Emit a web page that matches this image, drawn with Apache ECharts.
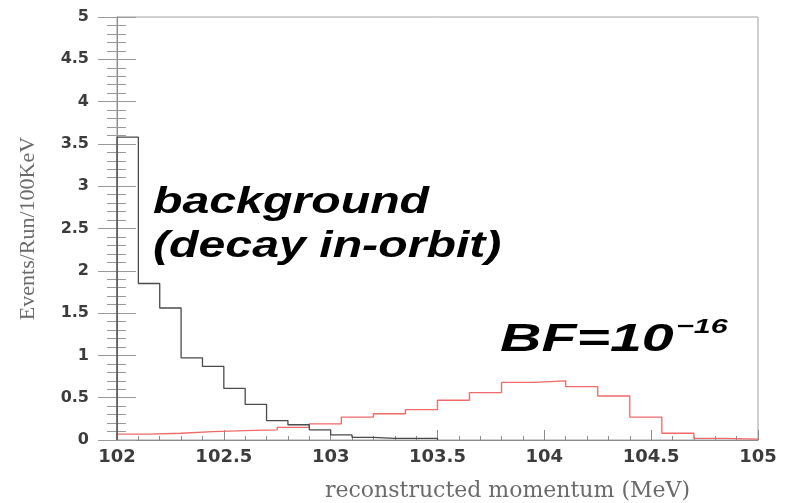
<!DOCTYPE html>
<html>
<head>
<meta charset="utf-8">
<script src="https://cdn.jsdelivr.net/npm/echarts@6/dist/echarts.min.js"></script>
<style>
  html, body { margin: 0; padding: 0; background: #fff; }
  #chart { width: 793px; height: 503px; }
</style>
</head>
<body>
<div id="chart"></div>
<script>
// background (decay in orbit), bins of 0.1 MeV starting at 102
const bgStart = 102.0;
const bgWidth = 0.1;
const bgCounts = [3.58, 1.85, 1.56, 0.97, 0.87, 0.61, 0.42, 0.23, 0.18, 0.12, 0.06, 0.03, 0.02, 0.02, 0.02];

// signal for BF=1e-16, bins of 0.15 MeV starting at 102
const sigStart = 102.0;
const sigWidth = 0.15;
const sigCounts = [0.07, 0.08, 0.10, 0.11, 0.12, 0.15, 0.19, 0.27, 0.31, 0.36, 0.47, 0.56, 0.68, 0.70, 0.63, 0.52, 0.27, 0.08, 0.02, 0.01];

// axis ticks
const xMin = 102, xMax = 105, xStep = 0.5;
const yMin = 0, yMax = 5, yStep = 0.5;

// turn bin contents into points for a step line (histogram outline)
function histPoints(start, width, counts) {
  let pts = [[start, 0]];
  counts.forEach((v, i) => {
    pts.push([+(start + i * width).toFixed(3), v]);
  });
  pts.push([+(start + counts.length * width).toFixed(3), 0]);
  return pts;
}

const chart = echarts.init(document.getElementById('chart'));

const labelFont = { fontFamily: 'DejaVu Sans', fontWeight: 'bold', color: '#3c3c3c' };
const tickColor = '#9a9a9a';
const lineColor = '#8a8a8a';
const frame = { left: 117, right: 35, top: 17, bottom: 63, outerBoundsMode: 'none' };

chart.setOption({
  animation: false,
  backgroundColor: '#fff',
  grid: [
    Object.assign({ show: true, borderColor: '#a0a0a0', borderWidth: 1 }, frame),
    // same frame again, only used for the inward ticks of the y axis
    Object.assign({ show: false }, frame)
  ],
  xAxis: [
    {
      type: 'value',
      min: xMin, max: xMax, interval: xStep,
      name: 'reconstructed momentum (MeV)',
      nameLocation: 'middle',
      nameGap: 40,
      nameTextStyle: {
        fontFamily: 'DejaVu Serif', fontSize: 22, color: '#6a6a6a',
        padding: [0, 0, 0, 140]
      },
      axisLine: { lineStyle: { color: lineColor, width: 1 } },
      axisTick: { show: true, inside: true, length: 10, lineStyle: { color: lineColor } },
      minorTick: { show: true, splitNumber: 5, length: 4, lineStyle: { color: lineColor } },
      splitLine: { show: false },
      axisLabel: Object.assign({ fontSize: 18, margin: 8 }, labelFont)
    },
    {
      type: 'value', gridIndex: 1, show: false,
      min: xMin, max: xMax
    }
  ],
  yAxis: [
    {
      type: 'value',
      min: yMin, max: yMax, interval: yStep,
      name: 'Events/Run/100KeV',
      nameLocation: 'middle',
      nameGap: 78,
      nameTextStyle: { fontFamily: 'Liberation Serif', fontSize: 22, color: '#6a6a6a' },
      axisLine: { show: true, lineStyle: { color: lineColor, width: 1 } },
      axisTick: { show: true, length: 19, lineStyle: { color: tickColor } },
      minorTick: { show: true, splitNumber: 5, length: 10, lineStyle: { color: tickColor } },
      splitLine: { show: false },
      axisLabel: Object.assign({ fontSize: 16, margin: 28 }, labelFont)
    },
    {
      type: 'value', gridIndex: 1,
      position: 'left',
      min: yMin, max: yMax, interval: yStep,
      axisLine: { show: true, lineStyle: { color: lineColor, width: 1 } },
      axisTick: { show: true, inside: true, length: 19, lineStyle: { color: tickColor } },
      minorTick: { show: true, splitNumber: 5, length: 9, lineStyle: { color: tickColor } },
      splitLine: { show: false },
      axisLabel: { show: false }
    }
  ],
  series: [
    {
      name: 'signal',
      type: 'line',
      step: 'end',
      symbol: 'none',
      data: histPoints(sigStart, sigWidth, sigCounts),
      lineStyle: { color: '#f06a6a', width: 1.3 }
    },
    {
      name: 'background',
      type: 'line',
      step: 'end',
      symbol: 'none',
      data: histPoints(bgStart, bgWidth, bgCounts),
      lineStyle: { color: '#4a4a4a', width: 1.3 }
    }
  ],
  graphic: [
    {
      type: 'text', x: 153, y: 181, scaleX: 1.34,
      style: {
        text: 'background\n(decay in-orbit)',
        font: 'italic bold 36px "Liberation Sans"',
        lineHeight: 44,
        fill: '#000',
        verticalAlign: 'top'
      }
    },
    {
      type: 'text', x: 500, y: 321, scaleX: 1.47,
      style: {
        text: 'BF=10',
        font: 'italic bold 39px "Liberation Sans"',
        fill: '#000',
        verticalAlign: 'top'
      }
    },
    {
      type: 'text', x: 676, y: 317, scaleX: 1.45,
      style: {
        text: '\u221216',
        font: 'italic bold 21px "Liberation Sans"',
        fill: '#000',
        verticalAlign: 'top'
      }
    }
  ]
});
</script>
</body>
</html>
